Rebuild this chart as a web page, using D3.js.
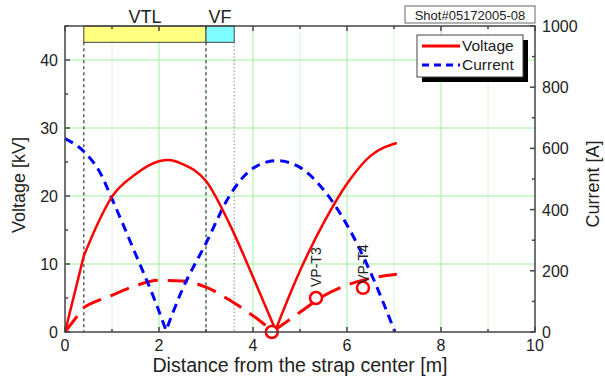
<!DOCTYPE html>
<html>
<head>
<meta charset="utf-8">
<script src="https://cdn.jsdelivr.net/npm/d3@7"></script>
<style>
  body { margin: 0; background: #fff; }
  text { font-family: Arial, "Liberation Sans", sans-serif; fill: #222; }
</style>
</head>
<body>
<div id="chart"></div>
<script>
// data
var distV = [0, 0.4, 0.7, 1.0, 1.5, 2.0, 2.2, 2.5, 3.0, 3.5, 4.0, 4.48, 5.0, 5.5, 6.0, 6.5, 7.06];
var voltage = [0, 11.2, 16.0, 19.9, 23.2, 25.1, 25.3, 24.7, 22.2, 15.9, 8.1, 0.3, 9.0, 16.0, 21.8, 25.9, 27.8];

var distV2 = [0, 0.4, 0.5, 1.0, 1.5, 2.0, 2.5, 3.0, 3.5, 4.0, 4.43, 5.0, 5.5, 6.0, 6.5, 7.06];
var voltage2 = [0, 3.6, 4.0, 5.4, 6.8, 7.6, 7.5, 6.6, 4.7, 2.4, 0.1, 2.9, 5.3, 6.9, 7.9, 8.5];

var distI = [0, 0.4, 0.75, 1.0, 1.5, 1.9, 2.15, 2.5, 3.0, 3.5, 4.0, 4.5, 5.0, 5.5, 6.0, 6.5, 7.02];
var current = [632, 590, 520, 435, 255, 108, 5, 140, 290, 445, 535, 560, 538, 465, 350, 195, 0];

var probeNames = ["", "VP-T3", "VP-T4"];
var probeDist = [4.4, 5.34, 6.34];
var probeVolt = [0, 5.0, 6.5];

var regionNames = ["VTL", "VF"];
var regionStart = [0.4, 3.0];
var regionEnd = [3.0, 3.6];

var xTicks = [0, 2, 4, 6, 8, 10];
var vTicks = [0, 10, 20, 30, 40];
var iTicks = [0, 200, 400, 600, 800, 1000];

var W = 605, H = 378;
var pL = 65, pR = 535, pT = 26, pB = 332;

var x = d3.scaleLinear().domain([0, 10]).range([pL, pR]);
var yV = d3.scaleLinear().domain([0, 45]).range([pB, pT]);
var yI = d3.scaleLinear().domain([0, 1000]).range([pB, pT]);

var svg = d3.select("#chart").append("svg")
  .attr("width", W).attr("height", H);

// smooth pieces joined at sharp corners (index list), kept as one subpath
function piecePath(line, xs, ys, breaks) {
  var pts = d3.zip(xs, ys);
  var cuts = [0].concat(breaks, [pts.length - 1]);
  var d = "";
  for (var k = 0; k < cuts.length - 1; k++) {
    var s = line(pts.slice(cuts[k], cuts[k + 1] + 1));
    d += k == 0 ? s : "L" + s.slice(1);
  }
  return d;
}

// grid
var grid = svg.append("g");
grid.selectAll(".gx").data(d3.range(1, 10)).enter().append("line")
  .attr("x1", d => x(d)).attr("x2", d => x(d))
  .attr("y1", pT).attr("y2", pB)
  .attr("stroke", d => d % 2 == 0 ? "#9cf09c" : "#d2f7d2")
  .attr("stroke-width", 1);
grid.selectAll(".gy").data([10, 20, 30, 40]).enter().append("line")
  .attr("x1", pL).attr("x2", pR)
  .attr("y1", d => yV(d)).attr("y2", d => yV(d))
  .attr("stroke", "#9cf09c")
  .attr("stroke-width", 1);

// region bars
var bars = svg.append("g");
bars.selectAll("rect").data(regionNames).enter().append("rect")
  .attr("x", (d, i) => x(regionStart[i]))
  .attr("y", yV(45))
  .attr("width", (d, i) => x(regionEnd[i]) - x(regionStart[i]))
  .attr("height", yV(42.6) - yV(45))
  .attr("fill", (d, i) => i == 0 ? "#ffff80" : "#80ffff")
  .attr("stroke", "#444").attr("stroke-width", 1);
bars.selectAll("text").data(regionNames).enter().append("text")
  .attr("x", (d, i) => (x(regionStart[i]) + x(regionEnd[i])) / 2)
  .attr("y", 23)
  .attr("text-anchor", "middle")
  .style("font-size", "18px")
  .text(d => d);

// boundary lines
var bounds = [0.4, 3.0, 3.6];
svg.selectAll(".bnd").data(bounds).enter().append("line")
  .attr("x1", d => x(d)).attr("x2", d => x(d))
  .attr("y1", yV(42.6)).attr("y2", pB)
  .attr("stroke", (d, i) => i == 2 ? "#888" : "#444")
  .attr("stroke-width", (d, i) => i == 2 ? 1 : 1.3)
  .attr("stroke-dasharray", (d, i) => i == 2 ? "1.5,2" : "3,3");

// curves
var lineV = d3.line().x(d => x(d[0])).y(d => yV(d[1])).curve(d3.curveMonotoneX);
var lineI = d3.line().x(d => x(d[0])).y(d => yI(d[1])).curve(d3.curveMonotoneX);

svg.append("path")
  .attr("d", piecePath(lineV, distV2, voltage2, [1, 10]))
  .attr("fill", "none").attr("stroke", "#ff0000")
  .attr("stroke-width", 3).attr("stroke-dasharray", "20,10");

svg.append("path")
  .attr("d", piecePath(lineI, distI, current, [6]))
  .attr("fill", "none").attr("stroke", "#0000ff")
  .attr("stroke-width", 3).attr("stroke-dasharray", "9,6");

svg.append("path")
  .attr("d", piecePath(lineV, distV, voltage, [1, 11]))
  .attr("fill", "none").attr("stroke", "#ff0000")
  .attr("stroke-width", 2.5).attr("stroke-linejoin", "round");

// probes
var labelLift = [0, 11, 4];
svg.selectAll(".probe").data(probeDist).enter().append("circle")
  .attr("cx", d => x(d)).attr("cy", (d, i) => yV(probeVolt[i]))
  .attr("r", 6)
  .attr("fill", "#fff").attr("stroke", "#ff0000").attr("stroke-width", 2.5);
svg.selectAll(".plabel").data(probeNames).enter().append("text")
  .attr("transform", (d, i) => "translate(" + (x(probeDist[i]) + 5) + "," + (yV(probeVolt[i]) - labelLift[i]) + ") rotate(-90)")
  .style("font-size", "14px")
  .text(d => d);

// axes
var ax = svg.append("g");
ax.append("rect")
  .attr("x", pL).attr("y", pT)
  .attr("width", pR - pL).attr("height", pB - pT)
  .attr("fill", "none").attr("stroke", "#444").attr("stroke-width", 1.5);

var minorX = d3.range(0, 11);
ax.selectAll(".tb").data(minorX).enter().append("line")
  .attr("x1", d => x(d)).attr("x2", d => x(d))
  .attr("y1", pB).attr("y2", d => pB - (d % 2 == 0 ? 5 : 3))
  .attr("stroke", "#444").attr("stroke-width", 1.5);
ax.selectAll(".tt").data(minorX).enter().append("line")
  .attr("x1", d => x(d)).attr("x2", d => x(d))
  .attr("y1", pT).attr("y2", d => pT + (d % 2 == 0 ? 5 : 3))
  .attr("stroke", "#444").attr("stroke-width", 1.5);
ax.selectAll(".tl").data(d3.range(0, 46, 5)).enter().append("line")
  .attr("x1", pL).attr("x2", d => pL + (d % 10 == 0 ? 5 : 3))
  .attr("y1", d => yV(d)).attr("y2", d => yV(d))
  .attr("stroke", "#444").attr("stroke-width", 1.5);
ax.selectAll(".tr").data(d3.range(0, 1001, 100)).enter().append("line")
  .attr("x1", pR).attr("x2", d => pR - (d % 200 == 0 ? 5 : 3))
  .attr("y1", d => yI(d)).attr("y2", d => yI(d))
  .attr("stroke", "#444").attr("stroke-width", 1.5);

ax.selectAll(".lx").data(xTicks).enter().append("text")
  .attr("x", d => x(d)).attr("y", 351)
  .attr("text-anchor", "middle").style("font-size", "16px")
  .text(d => d);
ax.selectAll(".lv").data(vTicks).enter().append("text")
  .attr("x", 58).attr("y", d => yV(d) + 6)
  .attr("text-anchor", "end").style("font-size", "16px")
  .text(d => d);
ax.selectAll(".li").data(iTicks).enter().append("text")
  .attr("x", 542).attr("y", d => yI(d) + 6)
  .style("font-size", "16px")
  .text(d => d);

svg.append("text")
  .attr("x", 300).attr("y", 372)
  .attr("text-anchor", "middle").style("font-size", "19.6px")
  .text("Distance from the strap center [m]");
svg.append("text")
  .attr("transform", "translate(25,185) rotate(-90)")
  .attr("text-anchor", "middle").style("font-size", "18px")
  .text("Voltage [kV]");
svg.append("text")
  .attr("transform", "translate(599,184) rotate(-90)")
  .attr("text-anchor", "middle").style("font-size", "18px")
  .text("Current [A]");

// shot label
svg.append("rect")
  .attr("x", 405).attr("y", 6).attr("width", 130).attr("height", 17)
  .attr("fill", "#fff").attr("stroke", "#666").attr("stroke-width", 1);
svg.append("text")
  .attr("x", 470).attr("y", 19.5)
  .attr("text-anchor", "middle").style("font-size", "13px")
  .text("Shot#05172005-08");

// legend
var lg = svg.append("g");
lg.append("rect").attr("x", 422).attr("y", 40).attr("width", 106).attr("height", 42).attr("fill", "#000");
lg.append("rect").attr("x", 417).attr("y", 35).attr("width", 106).attr("height", 42)
  .attr("fill", "#fff").attr("stroke", "#444").attr("stroke-width", 1);
var legNames = ["Voltage", "Current"];
var legColors = ["#ff0000", "#0000ff"];
lg.selectAll("line").data(legNames).enter().append("line")
  .attr("x1", 422).attr("x2", 460)
  .attr("y1", (d, i) => 46 + i * 19).attr("y2", (d, i) => 46 + i * 19)
  .attr("stroke", (d, i) => legColors[i]).attr("stroke-width", 3)
  .attr("stroke-dasharray", (d, i) => i == 1 ? "7,5" : null);
lg.selectAll("text").data(legNames).enter().append("text")
  .attr("x", 462).attr("y", (d, i) => 51 + i * 19)
  .style("font-size", "15.5px")
  .text(d => d);
</script>
</body>
</html>
